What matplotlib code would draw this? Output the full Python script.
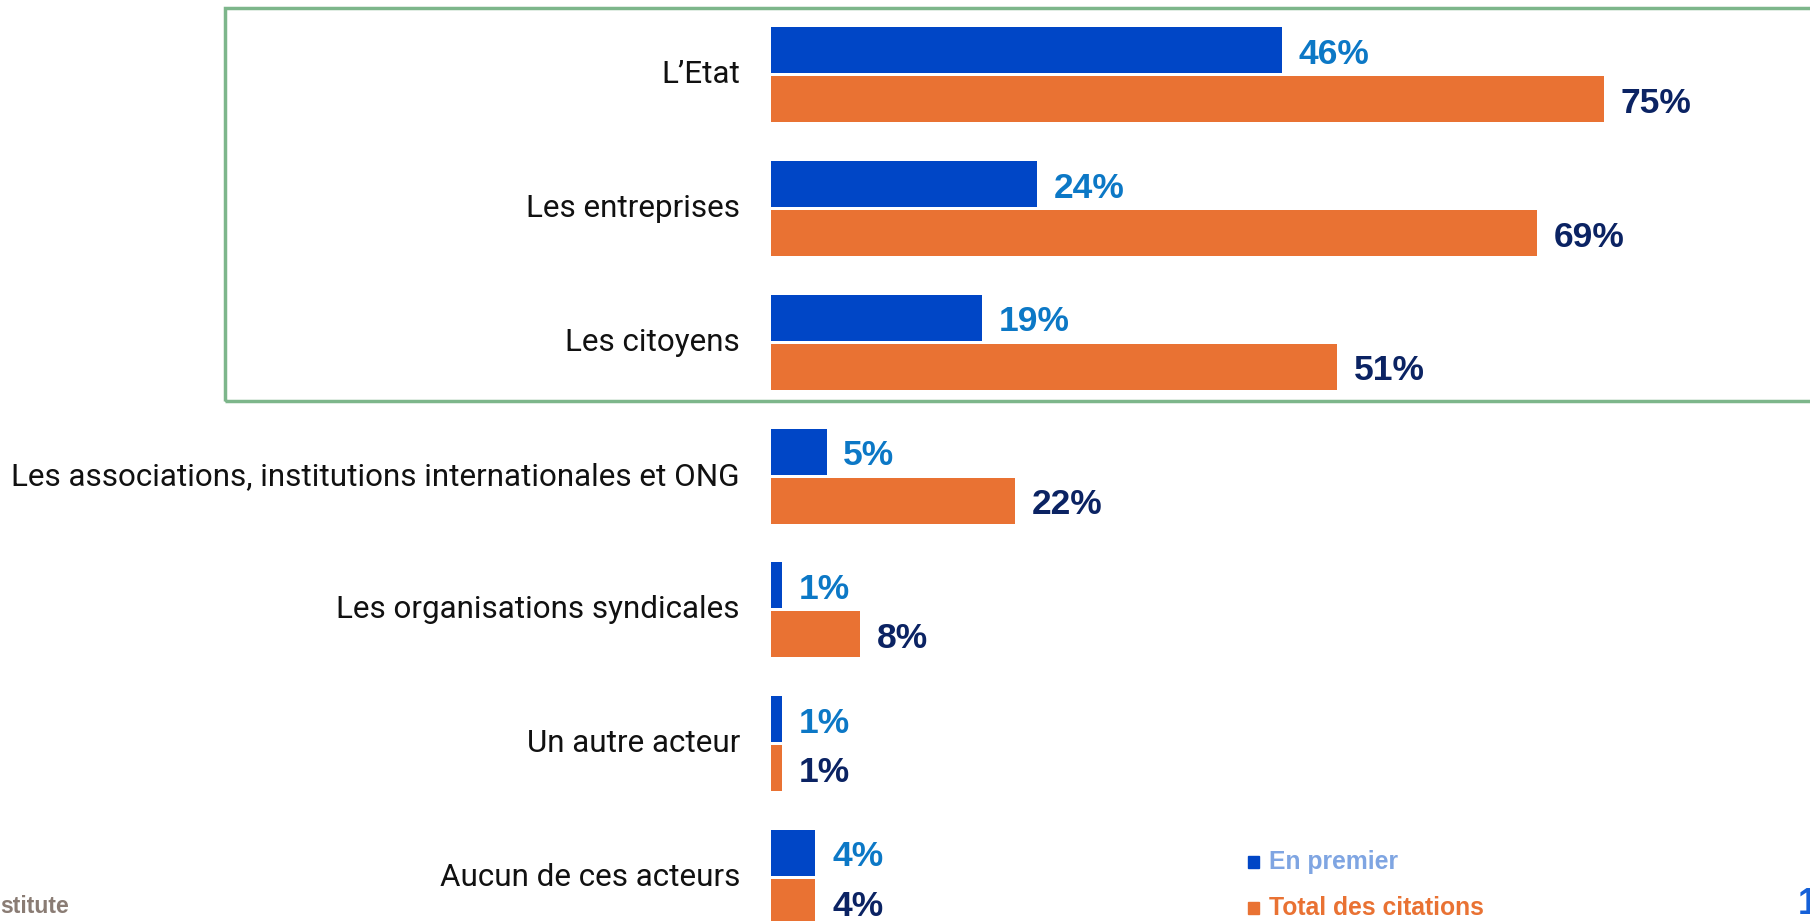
import matplotlib
matplotlib.use("Agg")
import matplotlib.pyplot as plt
from matplotlib.patches import Rectangle

# données
categories = [
    "L\u2019Etat",
    "Les entreprises",
    "Les citoyens",
    "Les associations, institutions internationales et ONG",
    "Les organisations syndicales",
    "Un autre acteur",
    "Aucun de ces acteurs",
]
en_premier = [46, 24, 19, 5, 1, 1, 4]
total_citations = [75, 69, 51, 22, 8, 1, 4]
legend_labels = ["En premier", "Total des citations"]

BLUE = "#0046C6"
ORANGE = "#E97233"
BLUE_TXT = "#0C78C6"
NAVY_TXT = "#0B2363"

W, H = 1810, 921
fig = plt.figure(figsize=(W / 100, H / 100), dpi=100)
ax = fig.add_axes([0, 0, 1, 1])

# échelle : 0 % à 771 px, 11.1 px par point ; un groupe tous les 133.75 px
x0, pxu = 771, 11.1
y0, step = 75, 133.75
ax.set_xlim(-x0 / pxu, (W - x0) / pxu)
ax.set_ylim((H - y0) / step, -y0 / step)
ax.axis("off")

ypos = list(range(len(categories)))
h = 46 / step
off = 24.5 / step
dy = 4 / step  # petit décalage des étiquettes de valeur
ax.barh([y - off for y in ypos], en_premier, height=h, color=BLUE)
ax.barh([y + off for y in ypos], total_citations, height=h, color=ORANGE)

for y, cat, a, b in zip(ypos, categories, en_premier, total_citations):
    ax.text(-2.8, y, cat, ha="right", va="center", fontsize=22.6,
            family="Roboto", color="#111111")
    ax.text(a + 1.5, y - off + dy, f"{a}%", ha="left", va="center", fontsize=25.5,
            family="Liberation Sans", weight="bold", color=BLUE_TXT)
    ax.text(b + 1.5, y + off + dy, f"{b}%", ha="left", va="center", fontsize=25.5,
            family="Liberation Sans", weight="bold", color=NAVY_TXT)

# cadre vert autour des trois premiers acteurs
fig.patches.append(Rectangle((225 / W, 1 - 401 / H), 1.0, (401 - 8) / H,
                             transform=fig.transFigure, fill=False,
                             edgecolor="#7DB68B", linewidth=2.5))

# légende
for i, (lab, c, tc) in enumerate(zip(legend_labels, [BLUE, ORANGE], ["#7FA5E2", ORANGE])):
    yc = 862 + 46 * i
    fig.patches.append(Rectangle((1248 / W, 1 - (yc + 6) / H), 11 / W, 12 / H,
                                 transform=fig.transFigure, color=c))
    fig.text(1269 / W, 1 - yc / H, lab, ha="left", va="center", fontsize=17.8,
             family="Liberation Sans", weight="bold", color=tc)

fig.text(0, 1 - 906 / H, "stitute", ha="left", va="center", fontsize=16.5,
         family="Liberation Sans", weight="bold", color="#8A7C74")
# numéro de page, coupé au bord comme dans l'original
fig.text(1798 / W, 1 - 904 / H, "1", ha="left", va="center", fontsize=26,
         family="Liberation Sans", weight="bold", color="#1560D8")

fig.savefig("out.png", dpi=100)
